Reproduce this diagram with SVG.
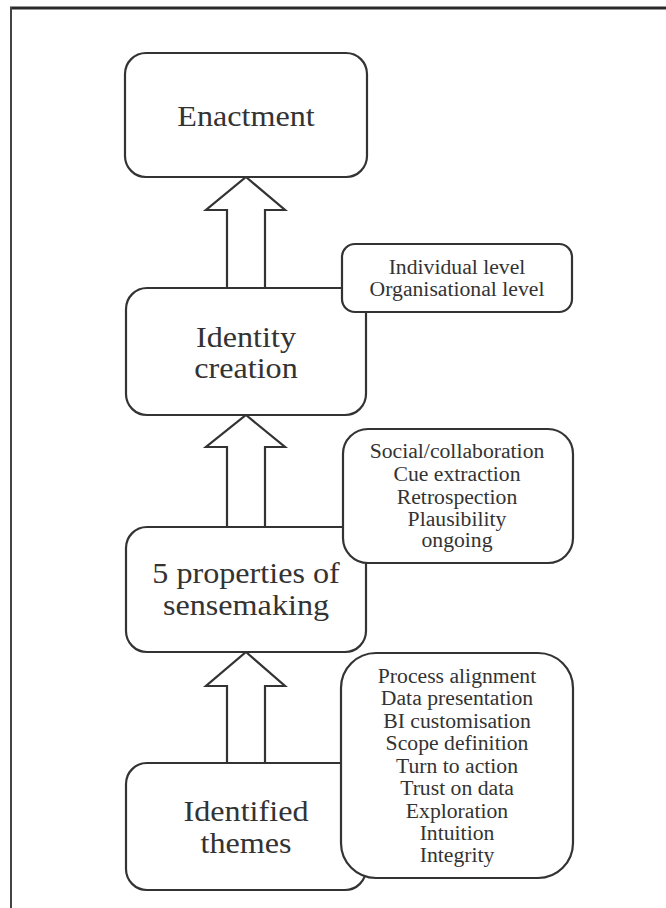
<svg xmlns="http://www.w3.org/2000/svg" width="666" height="908" viewBox="0 0 666 908">
  <style>
    .box { fill: #ffffff; stroke: #333333; stroke-width: 2.2; }
    .arrow { fill: #ffffff; stroke: #333333; stroke-width: 2.2; stroke-linejoin: miter; }
    .big { font-family: "Liberation Serif", "Times New Roman", serif; font-size: 29.5px; fill: #333333; text-anchor: middle; }
    .small { font-family: "Liberation Serif", "Times New Roman", serif; font-size: 20px; fill: #333333; text-anchor: middle; }
  </style>
  <rect x="0" y="0" width="666" height="908" fill="#ffffff"/>
  <!-- page frame -->
  <g id="frame">
    <line x1="10" y1="8" x2="666" y2="8" stroke="#2a2a2a" stroke-width="3"/>
    <line x1="11" y1="7" x2="11" y2="908" stroke="#444444" stroke-width="2"/>
  </g>

  <!-- block arrows between stages -->
  <g id="connectors">
    <path class="arrow" d="M246,177 L285,210 L265,210 L265,288 L227,288 L227,210 L206,210 Z"/>
    <path class="arrow" d="M246,415 L285,447 L265,447 L265,527 L227,527 L227,447 L206,447 Z"/>
    <path class="arrow" d="M246,652 L285,686 L265,686 L265,763 L227,763 L227,686 L206,686 Z"/>
  </g>

  <g id="enactment">
    <rect class="box" x="125" y="53" width="242" height="124" rx="21"/>
    <text class="big" transform="translate(246,126) scale(1.09,1)">Enactment</text>
  </g>

  <g id="identity-creation">
    <rect class="box" x="126" y="288" width="240" height="127" rx="21"/>
    <text class="big" transform="translate(246,347) scale(1.09,1)">Identity</text>
    <text class="big" transform="translate(246,378) scale(1.09,1)">creation</text>
  </g>

  <g id="identity-levels">
    <rect class="box" x="342" y="244" width="230" height="68" rx="13"/>
    <text class="small" transform="translate(457,274) scale(1.085,1)">Individual level</text>
    <text class="small" transform="translate(457,296) scale(1.085,1)">Organisational level</text>
  </g>

  <g id="sensemaking">
    <rect class="box" x="126" y="527" width="240" height="125" rx="21"/>
    <text class="big" transform="translate(246,583) scale(1.09,1)">5 properties of</text>
    <text class="big" transform="translate(246,615) scale(1.09,1)">sensemaking</text>
  </g>

  <g id="sensemaking-properties">
    <rect class="box" x="343" y="429" width="230" height="134" rx="25"/>
    <text class="small" transform="translate(457,458) scale(1.085,1)">Social/collaboration</text>
    <text class="small" transform="translate(457,481) scale(1.085,1)">Cue extraction</text>
    <text class="small" transform="translate(457,503.5) scale(1.085,1)">Retrospection</text>
    <text class="small" transform="translate(457,526) scale(1.085,1)">Plausibility</text>
    <text class="small" transform="translate(457,547) scale(1.085,1)">ongoing</text>
  </g>

  <g id="identified-themes">
    <rect class="box" x="126" y="763" width="240" height="127" rx="21"/>
    <text class="big" transform="translate(246,821) scale(1.09,1)">Identified</text>
    <text class="big" transform="translate(246,853) scale(1.09,1)">themes</text>
  </g>

  <g id="theme-list">
    <rect class="box" x="341" y="653" width="232" height="225" rx="35"/>
    <text class="small" transform="translate(457,683) scale(1.085,1)">Process alignment</text>
    <text class="small" transform="translate(457,705) scale(1.085,1)">Data presentation</text>
    <text class="small" transform="translate(457,727.5) scale(1.085,1)">BI customisation</text>
    <text class="small" transform="translate(457,750) scale(1.085,1)">Scope definition</text>
    <text class="small" transform="translate(457,772.5) scale(1.085,1)">Turn to action</text>
    <text class="small" transform="translate(457,795) scale(1.085,1)">Trust on data</text>
    <text class="small" transform="translate(457,817.5) scale(1.085,1)">Exploration</text>
    <text class="small" transform="translate(457,840) scale(1.085,1)">Intuition</text>
    <text class="small" transform="translate(457,862) scale(1.085,1)">Integrity</text>
  </g>
</svg>
